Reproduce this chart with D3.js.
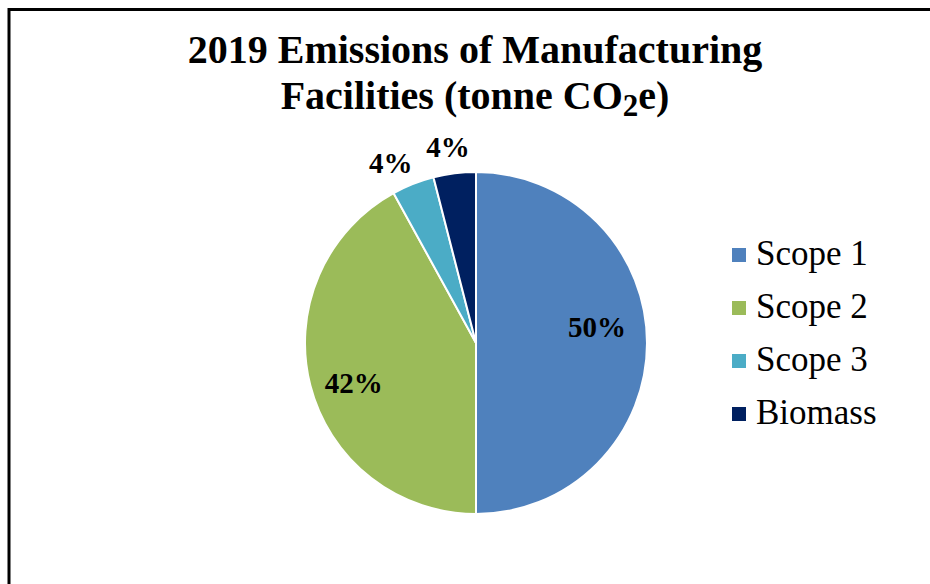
<!DOCTYPE html>
<html>
<head>
<meta charset="utf-8">
<script src="https://cdn.jsdelivr.net/npm/d3@7"></script>
<style>
  html, body { margin: 0; padding: 0; background: #fff; }
  svg { display: block; }
</style>
</head>
<body>
<svg id="chart" width="930" height="584"></svg>
<script>
// Emission sources and their share of the 2019 total (%)
const categories = ["Scope 1", "Scope 2", "Scope 3", "Biomass"];
const shares = [50, 42, 4, 4];
const sliceColors = ["#4F81BD", "#9BBB59", "#4BACC6", "#002060"];
const titleLine1 = "2019 Emissions of Manufacturing";

const W = 930, H = 584;
const cx = 476, cy = 343, R = 171;

const svg = d3.select("#chart");

// Chart frame (runs past the right and bottom edges of the view)
svg.append("rect")
  .attr("x", 9).attr("y", 9.5)
  .attr("width", W + 20).attr("height", H + 20)
  .attr("fill", "#fff")
  .attr("stroke", "#000").attr("stroke-width", 3);

// Title
const title = svg.append("text")
  .attr("text-anchor", "middle")
  .attr("font-family", "'Liberation Serif', 'Times New Roman', serif")
  .attr("font-weight", "bold")
  .attr("font-size", 40)
  .attr("fill", "#000");
title.append("tspan").attr("x", 475).attr("y", 63).text(titleLine1);
const t2 = title.append("tspan").attr("x", 475).attr("y", 109);
t2.append("tspan").text("Facilities (tonne CO");
t2.append("tspan").attr("font-size", 31).attr("dy", 7).text("2");
t2.append("tspan").attr("dy", -7).text("e)");

// Pie
const color = d3.scaleOrdinal().domain(categories).range(sliceColors);
const pie = d3.pie().value(d => d.value).sort(null);
const data = categories.map((c, i) => ({ name: c, value: shares[i] }));
const arcs = pie(data);

const arc = d3.arc().innerRadius(0).outerRadius(R);
const g = svg.append("g").attr("transform", `translate(${cx},${cy})`);

g.selectAll("path.slice")
  .data(arcs)
  .enter().append("path")
  .attr("class", "slice")
  .attr("d", arc)
  .attr("fill", d => color(d.data.name))
  .attr("stroke", "#fff")
  .attr("stroke-width", 2)
  .attr("stroke-linejoin", "round");

// Data labels: large slices inside, thin slices outside the rim
const innerLabel = d3.arc().innerRadius(123 * 2).outerRadius(0);
const outerLabel = d3.arc().innerRadius(199 * 2).outerRadius(0);
const labelNudge = { "Scope 1": [-2, -16], "Scope 2": [-3, 9], "Scope 3": [-12, 5], "Biomass": [-3, 1] };

g.selectAll("text.pct")
  .data(arcs)
  .enter().append("text")
  .attr("class", "pct")
  .attr("transform", d => {
    const big = (d.endAngle - d.startAngle) > 0.5;
    const [x, y] = (big ? innerLabel : outerLabel).centroid(d);
    const n = labelNudge[d.data.name];
    return `translate(${x + n[0]},${y + n[1] + 10})`;
  })
  .attr("text-anchor", "middle")
  .attr("font-family", "'Liberation Serif', 'Times New Roman', serif")
  .attr("font-weight", "bold")
  .attr("font-size", 29)
  .attr("fill", "#000")
  .text(d => d3.format(".0f")(d.data.value) + "%");

// Legend
const legend = svg.append("g").attr("transform", "translate(732,265)");
const rows = legend.selectAll("g.row")
  .data(categories)
  .enter().append("g")
  .attr("class", "row")
  .attr("transform", (d, i) => `translate(0,${i * 53})`);
rows.append("rect")
  .attr("x", 0).attr("y", -17)
  .attr("width", 14).attr("height", 14)
  .attr("fill", d => color(d));
rows.append("text")
  .attr("x", 24).attr("y", 0)
  .attr("font-family", "'Liberation Serif', 'Times New Roman', serif")
  .attr("font-size", 35)
  .attr("fill", "#000")
  .text(d => d);
</script>
</body>
</html>
